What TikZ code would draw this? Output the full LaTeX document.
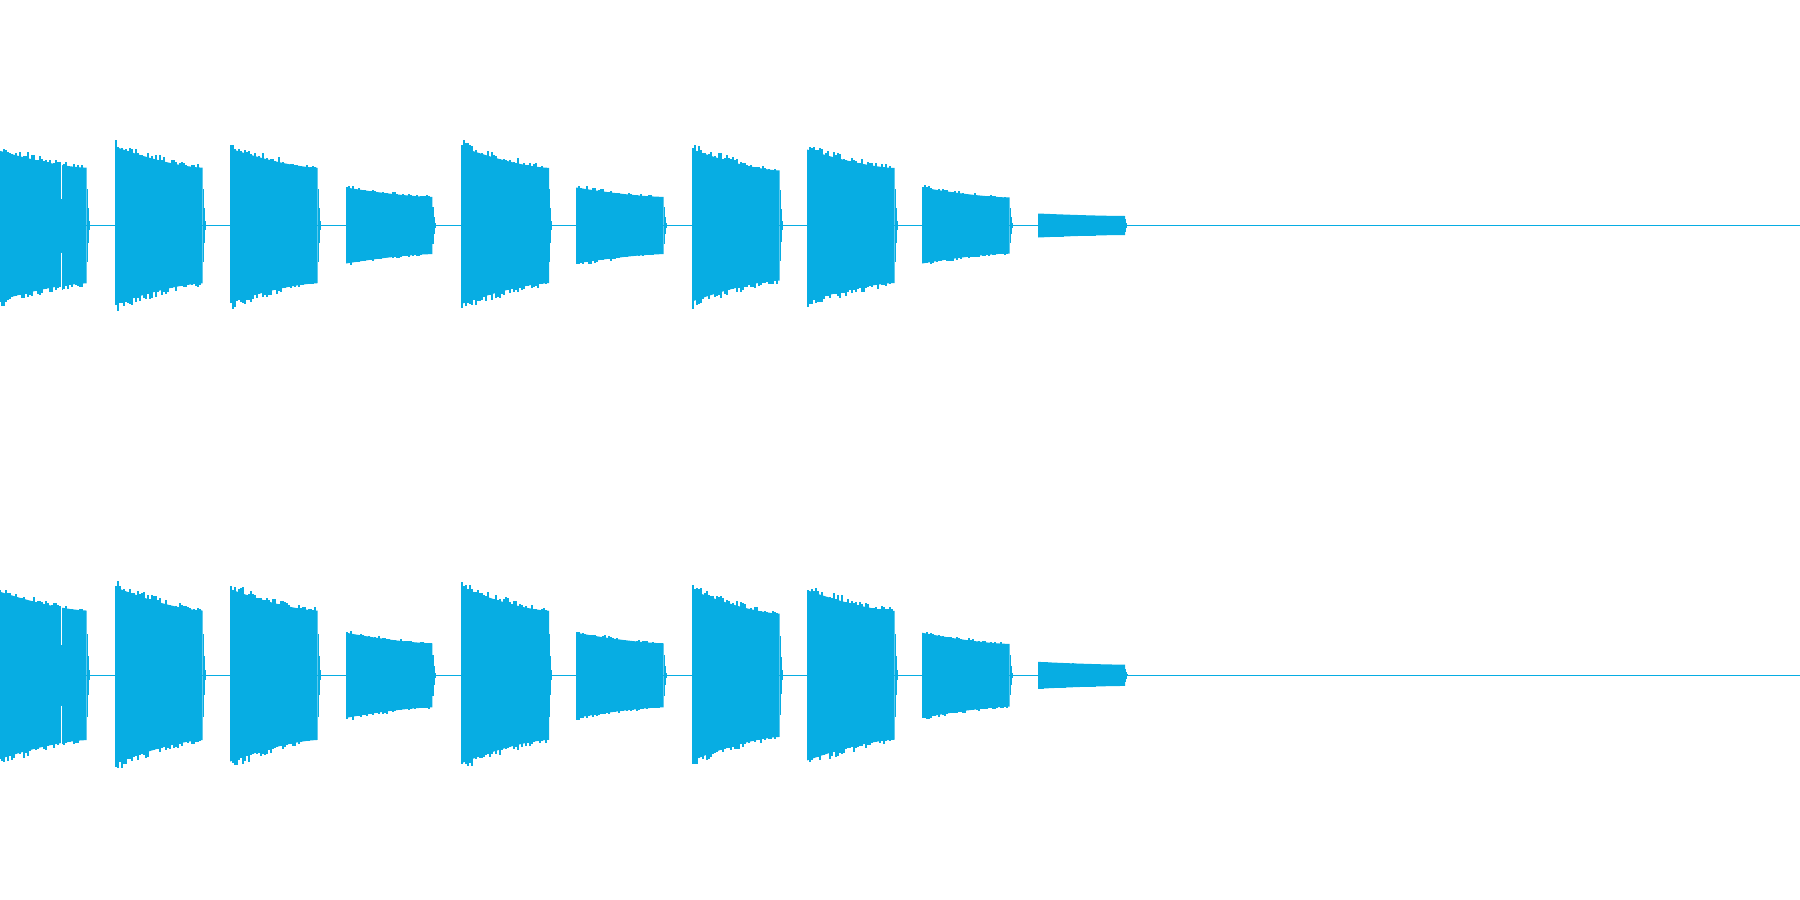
\documentclass[tikz,border=0pt]{standalone}
\usetikzlibrary{positioning}
\definecolor{wave}{RGB}{7,173,227}
\tikzset{
  envelope/.style={fill=wave},
  spike/.style={draw=wave, line width=0.35pt},
  zeroline/.style={draw=wave, line width=0.3pt},
  notch/.style={draw=white, line width=0.3pt},
}

\begin{document}
\begin{tikzpicture}[x=0.01cm, y=-0.01cm]
\useasboundingbox (0,0) rectangle (1800,900);
\pgfmathsetseed{7}

% zero lines of both channels
\foreach \cy in {225.5,675.3}{
  \draw[zeroline] (0,\cy) -- (1800,\cy);
}

% bursts: start / end / height at start / height at end
\foreach \xa/\xb/\ha/\hb in {-3/86.7/75.5/57.8, 115/202.7/78.8/57.8, 230/317.7/77/57.7,
    346/432.3/38/28.6, 461/549/78.6/57.6, 576/663.7/38/28.6, 692/779.7/76/55,
    807/894.7/76/57.5, 922/1009.7/38/28, 1038/1125/12/9.5}{
  \foreach \cy/\sc in {225.5/1, 675.3/1.12}{
    \fill[envelope]
      plot[domain=\xa:\xb, samples=12] (\x, {\cy-\sc*(\hb+(\ha-\hb)*abs((\xb-\x)/(\xb-\xa))*sqrt(abs((\xb-\x)/(\xb-\xa))))})
      -- plot[domain=\xb:\xa, samples=12] (\x, {\cy+\sc*(\hb+(\ha-\hb)*abs((\xb-\x)/(\xb-\xa))*sqrt(abs((\xb-\x)/(\xb-\xa))))})
      -- cycle;
    % ringing tail
    \fill[envelope] (\xb,{\cy-0.64*\sc*\hb}) rectangle ({\xb+1.2},{\cy+0.64*\sc*\hb});
    \fill[envelope] ({\xb+1.2},{\cy-0.3*\sc*\hb}) rectangle ({\xb+2.4},{\cy+0.3*\sc*\hb});
    \fill[envelope] ({\xb+2.4},{\cy-0.08*\sc*\hb}) rectangle ({\xb+3.4},{\cy+0.08*\sc*\hb});
    % peaks sticking out
    \foreach \kk in {0,...,42}{
      \pgfmathsetmacro\sx{\xa+1+2*\kk}
      \pgfmathsetmacro\tq{abs((\xb-\sx)/(\xb-\xa))}
      \pgfmathsetmacro\ev{\sc*(\hb+(\ha-\hb)*\tq*sqrt(\tq))}
      \pgfmathsetmacro\ra{rnd}
      \pgfmathsetmacro\rb{rnd}
      \pgfmathsetmacro\lu{9*\ra*sqrt(\ra)*(0.5+0.5*\tq)*\ha/78}
      \pgfmathsetmacro\ld{9*\rb*sqrt(\rb)*(0.5+0.5*\tq)*\ha/78}
      \draw[spike] (\sx,{\cy-\ev+1}) -- ++(0,-\lu);
      \draw[spike] (\sx,{\cy+\ev-1}) -- ++(0,\ld);
    }
  }
}

% small gap in the first burst
\foreach \cy/\sc in {225.5/1, 675.3/1.12}{
  \draw[notch] (61.3,{\cy-72*\sc}) -- (61.3,{\cy-27*\sc});
  \draw[notch] (61.3,{\cy+27*\sc}) -- (61.3,{\cy+72*\sc});
}
\end{tikzpicture}
\end{document}
